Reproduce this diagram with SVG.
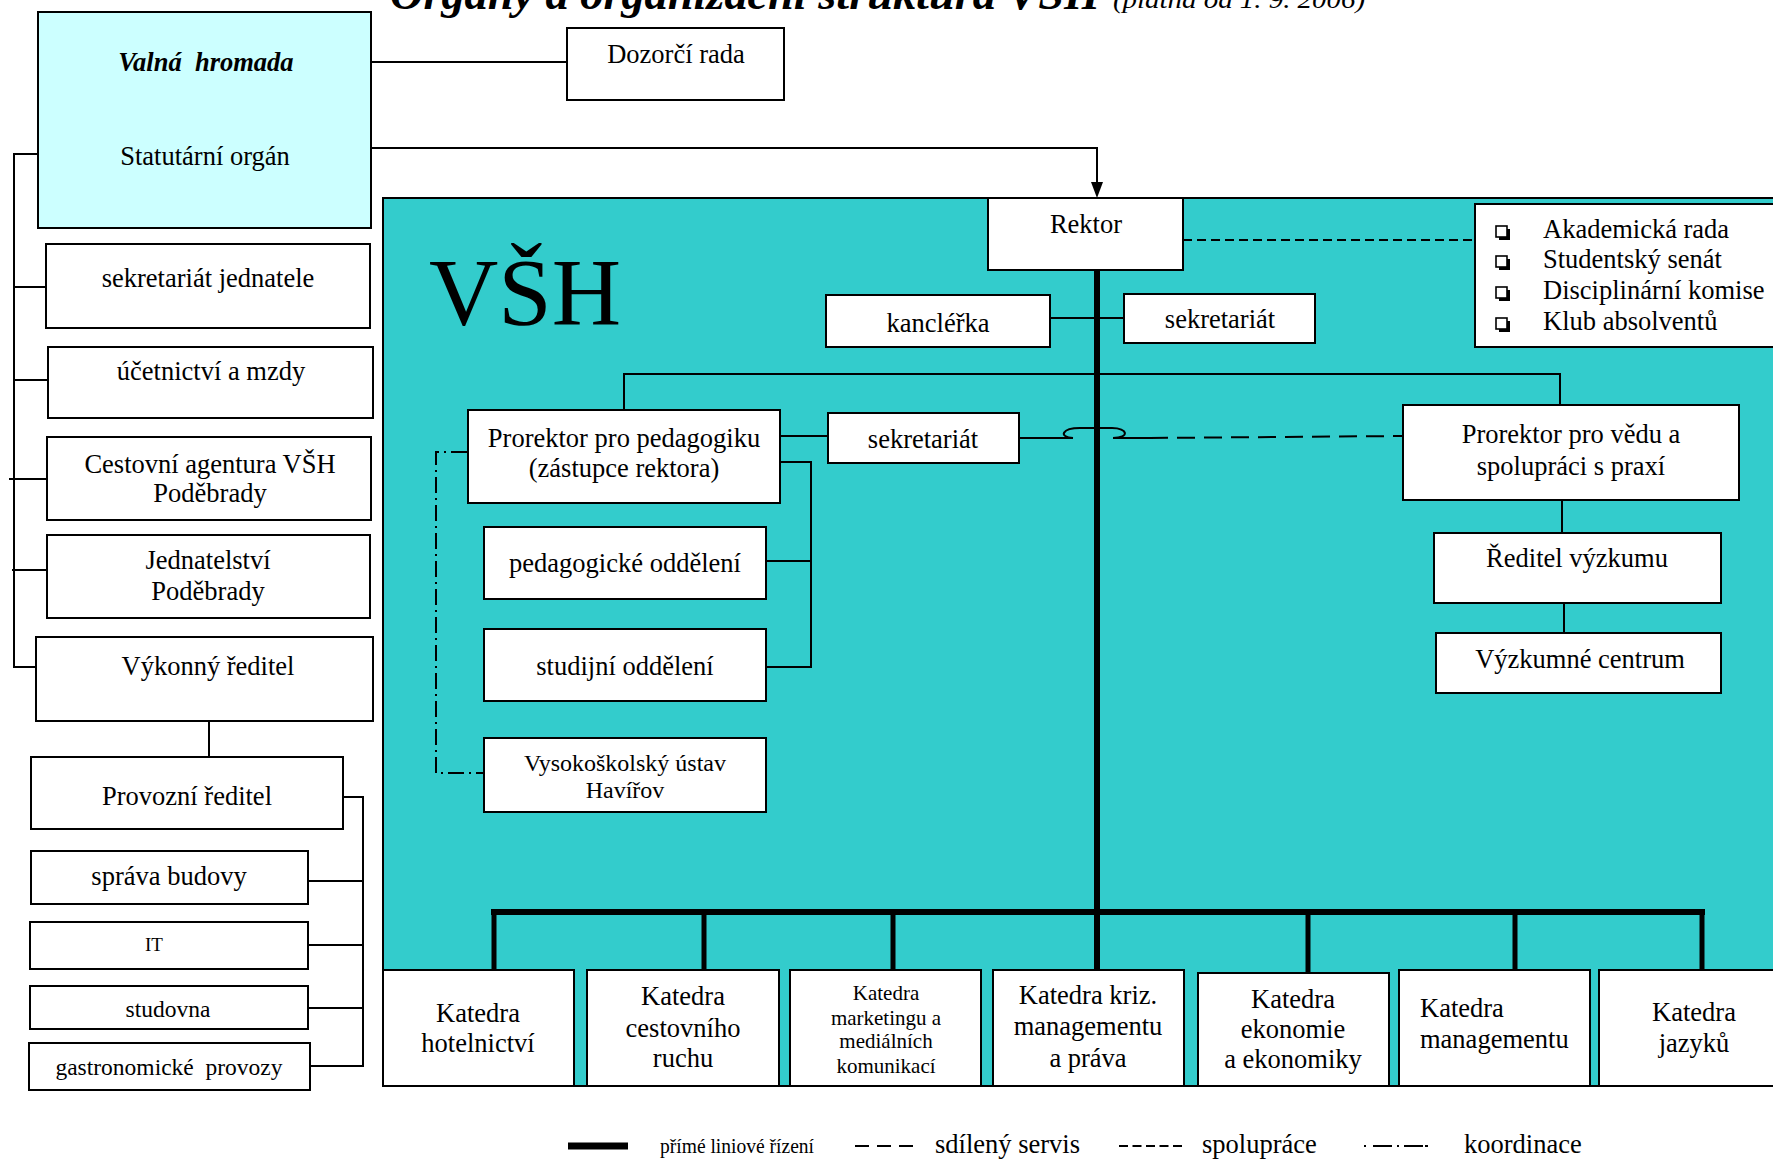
<svg xmlns="http://www.w3.org/2000/svg" width="1773" height="1159" viewBox="0 0 1773 1159">
<style>
.t{font-family:"Liberation Serif","Times New Roman",serif;font-size:26.5px;fill:#000}
.c{text-anchor:middle}
.s24{font-size:24px}
.s21{font-size:21px}
.box{fill:#fff;stroke:#000;stroke-width:2}
.ln{fill:none;stroke:#000;stroke-width:2}
.thick{stroke-width:6}
.bar{stroke-width:5}
.dashS{stroke-dasharray:9 5}
.dashL{stroke-dasharray:18 9}
.dashdot{stroke-dasharray:16 5 2 5}
</style>
<defs>
<g id="cb"><rect x="3" y="3" width="11" height="11" fill="#000"/><rect x="0" y="0" width="11" height="11" fill="#fff" stroke="#000" stroke-width="1.6"/></g>
</defs>
<rect x="0" y="0" width="1773" height="1159" fill="#fff"/>

<g id="title">
<text class="t" x="390" y="9" style="font-size:44px;font-weight:bold;font-style:italic" textLength="710" lengthAdjust="spacingAndGlyphs">Orgány a organizační struktura VŠH</text>
<text class="t" x="1113" y="8" style="font-size:26px;font-style:italic" textLength="252" lengthAdjust="spacingAndGlyphs">(platná od 1. 9. 2006)</text>
</g>

<g id="vsh-region">
<rect x="383" y="198" width="1400" height="888" fill="#33CCCC" stroke="#000" stroke-width="2"/>
<text class="t" x="429" y="325" style="font-size:96px">VŠH</text>
</g>

<g id="connectors">
<path class="ln" d="M371,62 H567"/>
<path class="ln" d="M371,148 H1097 V182"/>
<path d="M1091,182 L1103,182 L1097,198 Z" fill="#000"/>
<path class="ln" d="M38,154 H14 V667 H37"/>
<path class="ln" d="M14,287 H46 M14,380 H48 M9,479 H47 M12,570 H47"/>
<path class="ln" d="M209,721 V757"/>
<path class="ln" d="M343,797 H363 V1066 H310 M307,881 H363 M308,945 H363 M308,1008 H363"/>
<path class="ln dashS" d="M1183,240 H1475"/>
<path class="ln thick" d="M1097,270 V970"/>
<path class="ln" d="M1050,318 H1124"/>
<path class="ln" d="M624,410 V374 H1560 V405"/>
<path class="ln" d="M780,436 H828"/>
<path class="ln" d="M780,462 H811 V667 H766 M766,561 H811"/>
<path class="ln" d="M1019,438 H1073 C1058,437 1062,428 1080,428 H1112 C1128,428 1130,438 1113,438 H1150"/>
<path class="ln dashL" d="M1150,438 L1403,436"/>
<path class="ln" d="M1562,500 V533 M1564,603 V633"/>
<path class="ln dashdot" d="M467,452 H436 V773 H484"/>
<path class="ln thick" d="M491,912 H1705"/>
<path class="ln bar" d="M494,912 V970 M704,912 V970 M893,912 V970 M1308,912 V973 M1515,912 V970 M1702,912 V970"/>
</g>

<g id="valna-hromada">
<rect x="38" y="12" width="333" height="216" fill="#CCFFFF" stroke="#000" stroke-width="2"/>
<text class="t c" x="206" y="71" style="font-weight:bold;font-style:italic" xml:space="preserve">Valná  hromada</text>
<text class="t c" x="205" y="165">Statutární orgán</text>
</g>
<g id="dozorci-rada"><rect class="box" x="567" y="28" width="217" height="72"/><text class="t c" x="676" y="63">Dozorčí rada</text></g>
<g id="sekretariat-jednatele"><rect class="box" x="46" y="244" width="324" height="84"/><text class="t c" x="208" y="287">sekretariát jednatele</text></g>
<g id="ucetnictvi"><rect class="box" x="48" y="347" width="325" height="71"/><text class="t c" x="211" y="380">účetnictví a mzdy</text></g>
<g id="cestovni-agentura"><rect class="box" x="47" y="437" width="324" height="83"/><text class="t c" x="210" y="473">Cestovní agentura VŠH</text><text class="t c" x="210" y="502">Poděbrady</text></g>
<g id="jednatelstvi"><rect class="box" x="47" y="535" width="323" height="83"/><text class="t c" x="208" y="569">Jednatelství</text><text class="t c" x="208" y="600">Poděbrady</text></g>
<g id="vykonny-reditel"><rect class="box" x="36" y="637" width="337" height="84"/><text class="t c" x="208" y="675">Výkonný ředitel</text></g>
<g id="provozni-reditel"><rect class="box" x="31" y="757" width="312" height="72"/><text class="t c" x="187" y="805">Provozní ředitel</text></g>
<g id="sprava-budovy"><rect class="box" x="31" y="851" width="277" height="53"/><text class="t c" x="169" y="885">správa budovy</text></g>
<g id="it"><rect class="box" x="30" y="922" width="278" height="47"/><text class="t c" x="154" y="951" style="font-size:19px">IT</text></g>
<g id="studovna"><rect class="box" x="30" y="986" width="278" height="43"/><text class="t c" x="168" y="1017" style="font-size:23.5px">studovna</text></g>
<g id="gastronomicke"><rect class="box" x="29" y="1043" width="281" height="47"/><text class="t c" x="169" y="1075" style="font-size:23.5px" xml:space="preserve">gastronomické  provozy</text></g>

<g id="rektor"><rect class="box" x="988" y="198" width="195" height="72"/><text class="t c" x="1086" y="233">Rektor</text></g>
<g id="akademicke-organy">
<rect class="box" x="1475" y="204" width="310" height="143"/>
<use href="#cb" x="1496" y="226"/><use href="#cb" x="1496" y="256"/><use href="#cb" x="1496" y="287"/><use href="#cb" x="1496" y="318"/>
<text class="t" x="1543" y="238">Akademická rada</text>
<text class="t" x="1543" y="268">Studentský senát</text>
<text class="t" x="1543" y="299">Disciplinární komise</text>
<text class="t" x="1543" y="330">Klub absolventů</text>
</g>
<g id="kanclerka"><rect class="box" x="826" y="295" width="224" height="52"/><text class="t c" x="938" y="332">kancléřka</text></g>
<g id="sekretariat-rektor"><rect class="box" x="1124" y="294" width="191" height="49"/><text class="t c" x="1220" y="328">sekretariát</text></g>
<g id="prorektor-pedagogika"><rect class="box" x="468" y="410" width="312" height="93"/><text class="t c" x="624" y="447">Prorektor pro pedagogiku</text><text class="t c" x="624" y="477">(zástupce rektora)</text></g>
<g id="sekretariat-prorektor"><rect class="box" x="828" y="413" width="191" height="50"/><text class="t c" x="923" y="448">sekretariát</text></g>
<g id="pedagogicke-oddeleni"><rect class="box" x="484" y="527" width="282" height="72"/><text class="t c" x="625" y="572">pedagogické oddělení</text></g>
<g id="studijni-oddeleni"><rect class="box" x="484" y="629" width="282" height="72"/><text class="t c" x="625" y="675">studijní oddělení</text></g>
<g id="vu-havirov"><rect class="box" x="484" y="738" width="282" height="74"/><text class="t c s24" x="625" y="771">Vysokoškolský ústav</text><text class="t c s24" x="625" y="798">Havířov</text></g>
<g id="prorektor-veda"><rect class="box" x="1403" y="405" width="336" height="95"/><text class="t c" x="1571" y="443">Prorektor pro vědu a</text><text class="t c" x="1571" y="475">spolupráci s praxí</text></g>
<g id="reditel-vyzkumu"><rect class="box" x="1434" y="533" width="287" height="70"/><text class="t c" x="1577" y="567">Ředitel výzkumu</text></g>
<g id="vyzkumne-centrum"><rect class="box" x="1436" y="633" width="285" height="60"/><text class="t c" x="1580" y="668">Výzkumné centrum</text></g>

<g id="katedra-hotelnictvi"><rect class="box" x="383" y="970" width="191" height="116"/><text class="t c" x="478" y="1022">Katedra</text><text class="t c" x="478" y="1052">hotelnictví</text></g>
<g id="katedra-cr"><rect class="box" x="587" y="970" width="192" height="116"/><text class="t c" x="683" y="1005">Katedra</text><text class="t c" x="683" y="1037">cestovního</text><text class="t c" x="683" y="1067">ruchu</text></g>
<g id="katedra-marketingu"><rect class="box" x="790" y="970" width="191" height="116"/><text class="t c s21" x="886" y="1000">Katedra</text><text class="t c s21" x="886" y="1025">marketingu a</text><text class="t c s21" x="886" y="1048">mediálních</text><text class="t c s21" x="886" y="1073">komunikací</text></g>
<g id="katedra-kriz"><rect class="box" x="993" y="970" width="191" height="116"/><text class="t c" x="1088" y="1004">Katedra kriz.</text><text class="t c" x="1088" y="1035">managementu</text><text class="t c" x="1088" y="1067">a práva</text></g>
<g id="katedra-ekonomie"><rect class="box" x="1198" y="973" width="191" height="113"/><text class="t c" x="1293" y="1008">Katedra</text><text class="t c" x="1293" y="1038">ekonomie</text><text class="t c" x="1293" y="1068">a ekonomiky</text></g>
<g id="katedra-managementu"><rect class="box" x="1399" y="970" width="191" height="116"/><text class="t" x="1420" y="1017">Katedra</text><text class="t" x="1420" y="1048">managementu</text></g>
<g id="katedra-jazyku"><rect class="box" x="1599" y="970" width="190" height="116"/><text class="t c" x="1694" y="1021">Katedra</text><text class="t c" x="1694" y="1052">jazyků</text></g>

<g id="legend">
<path d="M568,1146 H628" style="fill:none;stroke:#000;stroke-width:7"/>
<text class="t s21" x="660" y="1153" textLength="154" lengthAdjust="spacingAndGlyphs">přímé liniové řízení</text>
<path class="ln" d="M855,1146 H913" style="stroke-dasharray:14 8"/>
<text class="t" x="935" y="1153">sdílený servis</text>
<path class="ln" d="M1119,1146 H1182" style="stroke-dasharray:9 4.5"/>
<text class="t" x="1202" y="1153">spolupráce</text>
<path class="ln" d="M1364,1146 H1428" style="stroke-dasharray:2 7 19 5 2 5 19"/>
<text class="t" x="1464" y="1153">koordinace</text>
</g>
</svg>
